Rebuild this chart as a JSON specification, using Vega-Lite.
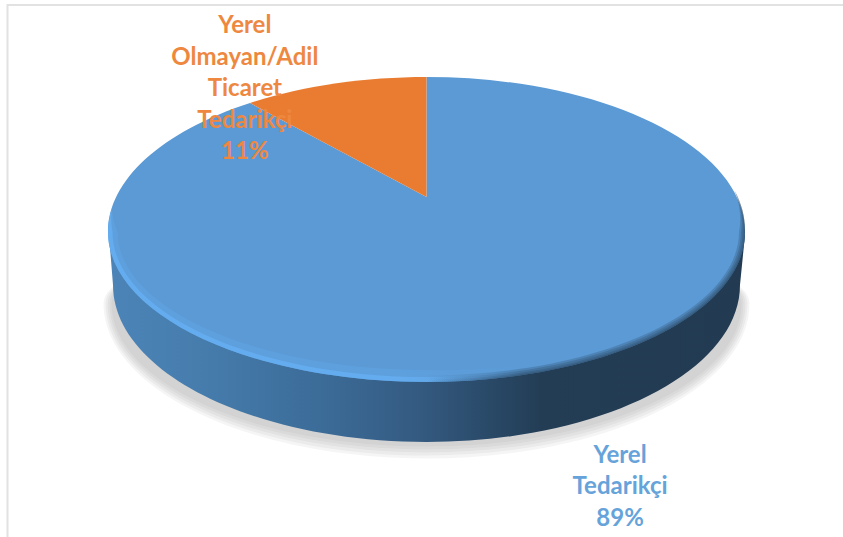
{"$schema":"https://vega.github.io/schema/vega-lite/v6.json","width":843,"height":537,"padding":0,"autosize":"none","background":"#ffffff","config":{"view":{"stroke":null}},"datasets":{"shares":[{"segment":"Yerel Tedarikçi","share":89,"label":"Yerel\nTedarikçi\n89%"},{"segment":"Yerel Olmayan/Adil Ticaret Tedarikçi","share":11,"label":"Yerel\nOlmayan/Adil\nTicaret\nTedarikçi\n11%"}]},"resolve":{"scale":{"shape":"independent","color":"independent","theta":"independent"}},"layer":[
{"data":{"values":[{"part":"s1"},{"part":"s2"},{"part":"s3"},{"part":"s4"},{"part":"s5"}]},"mark":{"type":"point","filled":true,"fill":"#8f8f8f","opacity":0.09,"size":4},"encoding":{"shape":{"field":"part","type":"nominal","legend":null,"scale":{"domain":["s1","s2","s3","s4","s5"],"range":["M-310,35A315,143 0 0 0 5,178A315,143 0 0 0 320,35A315,70 0 0 0 -310,35Z","M-312,35A317,146 0 0 0 5,181A317,146 0 0 0 322,35A317,70 0 0 0 -312,35Z","M-314,35A319,149 0 0 0 5,184A319,149 0 0 0 324,35A319,70 0 0 0 -314,35Z","M-316,35A321,152 0 0 0 5,187A321,152 0 0 0 326,35A321,70 0 0 0 -316,35Z","M-318,35A323,155 0 0 0 5,190A323,155 0 0 0 328,35A323,70 0 0 0 -318,35Z"]}}}},
{"data":{"values":[{"part":"side"}]},"mark":{"type":"point","filled":true,"opacity":1,"size":4,"fill":{"gradient":"linear","x1":0,"y1":0,"x2":1,"y2":0,"stops":[{"offset":0,"color":"#4c84b8"},{"offset":0.14,"color":"#467dad"},{"offset":0.35,"color":"#3b6a96"},{"offset":0.49,"color":"#345a80"},{"offset":0.58,"color":"#2b4c6c"},{"offset":0.68,"color":"#233d55"},{"offset":1,"color":"#223b52"}]}},"encoding":{"shape":{"field":"part","type":"nominal","legend":null,"scale":{"domain":["side"],"range":["M-312.5,-33.5L-308.5,16.5A313.5,157 0 0 0 5,173.5A313.5,157 0 0 0 318.5,16.5L323.5,-33.5Z"]}}}},
{"data":{"name":"shares"},"mark":{"type":"point","filled":true,"opacity":1,"size":4},"encoding":{"shape":{"field":"segment","type":"nominal","legend":null,"scale":{"domain":["Yerel Tedarikçi","Yerel Olmayan/Adil Ticaret Tedarikçi"],"range":["M5,-71.5L5,-191.5A318.5,155 0 0 1 323.5,-36.5A318.5,150 0 0 1 5,113.5A318.5,150 0 0 1 -313.5,-36.5A318.5,155 0 0 1 -171.5,-165.5Z","M5,-71.5L-171.5,-165.5A318.5,155 0 0 1 5,-191.5Z"]}},"color":{"field":"segment","type":"nominal","legend":null,"scale":{"domain":["Yerel Tedarikçi","Yerel Olmayan/Adil Ticaret Tedarikçi"],"range":["#5b9ad5","#e97c30"]}}}},
{"data":{"values":[{"part":"wide"}]},"mark":{"type":"point","filled":true,"opacity":0.3,"size":4,"fill":{"gradient":"linear","x1":0,"y1":0,"x2":1,"y2":0,"stops":[{"offset":0,"color":"#64aef2"},{"offset":0.7,"color":"#64aef2"},{"offset":1,"color":"rgba(100,174,242,0)"}]}},"encoding":{"shape":{"field":"part","type":"nominal","legend":null,"scale":{"domain":["wide"],"range":["M-309.7,-60A318.5,155 0 0 0 -313.5,-36.5A318.5,150 0 0 0 5,113.5A318.5,150 0 0 0 100,106.7L100,97A309,138 0 0 1 5,101.5A309,138 0 0 1 -304,-36.5A309,146 0 0 1 -309.7,-60Z"]}}}},
{"data":{"values":[{"part":"narrow"}]},"mark":{"type":"point","filled":true,"opacity":0.75,"size":4,"fill":{"gradient":"linear","x1":0,"y1":0,"x2":1,"y2":0,"stops":[{"offset":0,"color":"#66b0f4"},{"offset":0.7,"color":"#66b0f4"},{"offset":1,"color":"rgba(102,176,244,0)"}]}},"encoding":{"shape":{"field":"part","type":"nominal","legend":null,"scale":{"domain":["narrow"],"range":["M-309.7,-60A318.5,155 0 0 0 -313.5,-36.5A318.5,150 0 0 0 5,113.5A318.5,150 0 0 0 100,106.7L100,102A314,145 0 0 1 5,108.5A314,145 0 0 1 -309,-36.5A314,149 0 0 1 -309.7,-60Z"]}}}},
{"data":{"values":[{"part":"d1"},{"part":"d2"},{"part":"d3"},{"part":"d4"}]},"mark":{"type":"point","filled":true,"opacity":0.24,"size":4,"fill":{"gradient":"linear","x1":0,"y1":0,"x2":1,"y2":0,"stops":[{"offset":0,"color":"rgba(35,61,85,0)"},{"offset":0.3,"color":"#233d55"},{"offset":1,"color":"#233d55"}]}},"encoding":{"shape":{"field":"part","type":"nominal","legend":null,"scale":{"domain":["d1","d2","d3","d4"],"range":["M313,-78A318.5,155 0 0 1 323.5,-36.5A318.5,150 0 0 1 5,113.5L5,112.5A317.5,149 0 0 0 322.5,-36.5A317.5,154 0 0 0 313,-78Z","M313,-78A318.5,155 0 0 1 323.5,-36.5A318.5,150 0 0 1 5,113.5L5,111A316,147.5 0 0 0 321,-36.5A316,152.5 0 0 0 313,-78Z","M313,-78A318.5,155 0 0 1 323.5,-36.5A318.5,150 0 0 1 5,113.5L5,109A314.5,146 0 0 0 319.5,-36.5A314.5,151 0 0 0 313,-78Z","M313,-78A318.5,155 0 0 1 323.5,-36.5A318.5,150 0 0 1 5,113.5L5,107A312.5,144 0 0 0 317.5,-36.5A312.5,149 0 0 0 313,-78Z"]}}}},
{"data":{"values":[{"part":"frame"}]},"mark":{"type":"point","filled":false,"opacity":1,"size":4,"stroke":"#e2e2e2","strokeWidth":2},"encoding":{"shape":{"field":"part","type":"nominal","legend":null,"scale":{"domain":["frame"],"range":["M-414,268.5L-414,-263.5L421.5,-263.5"]}}}},
{"data":{"name":"shares"},"mark":{"type":"text","font":"Lato","fontWeight":"bold","fontSize":24,"lineBreak":"\n","lineHeight":31.5,"align":"center","baseline":"middle","radius":285.3,"dx":11,"dy":-27.5},"encoding":{"theta":{"field":"share","type":"quantitative","stack":true,"scale":{"domain":[0,100],"range":[-0.372,5.911]}},"order":{"field":"share","sort":"descending"},"text":{"field":"label"},"color":{"field":"segment","type":"nominal","legend":null,"scale":{"domain":["Yerel Tedarikçi","Yerel Olmayan/Adil Ticaret Tedarikçi"],"range":["#66a3da","#ee8840"]}}}}
]}
